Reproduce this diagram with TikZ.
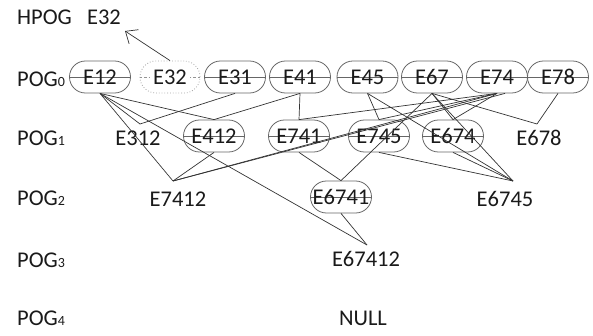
\documentclass[tikz,border=0pt]{standalone}
\usepackage{fontspec}
\setmainfont{Carlito}
\usetikzlibrary{arrows.meta}
\definecolor{ln}{HTML}{333333}
\definecolor{ov}{HTML}{666666}
\definecolor{tx}{HTML}{1A1A1A}
\newcommand{\sbs}[1]{{\fontsize{14}{14}\selectfont #1}}
\begin{document}
\begin{tikzpicture}[x=1pt,y=-1pt,
  every node/.style={font=\fontsize{22.5}{24}\selectfont, text=tx, inner sep=0pt},
  oval/.style={draw=ov, line width=0.8pt, rounded corners=15.9pt, minimum width=61pt, minimum height=32pt},
  dotoval/.style={draw=ov!60, dotted, line width=0.8pt, rounded corners=15.9pt, minimum width=60pt, minimum height=32pt},
  link/.style={draw=ln, line width=0.7pt},
  strike/.style={draw=ov, line width=0.8pt},
  lbl/.style={anchor=west}]
\useasboundingbox (0,0) rectangle (593,335);
% row labels
\node[lbl] (hpog) at (17,17) {HPOG};
\node (hE32) at (104,17) {E32};
\node[lbl] (pog0) at (17,79) {POG\sbs{0}};
\node[lbl] (pog1) at (17,138) {POG\sbs{1}};
\node[lbl] (pog2) at (17,198) {POG\sbs{2}};
\node[lbl] (pog3) at (17,260) {POG\sbs{3}};
\node[lbl] (pog4) at (17,318) {POG\sbs{4}};
% row 0
\node[oval] (E12) at (100,77) {};
\node[dotoval] (E32) at (170,77) {};
\node[oval] (E31) at (235,77) {};
\node[oval] (E41) at (300,77) {};
\node[oval] (E45) at (367.5,77) {};
\node[oval] (E67) at (432,77) {};
\node[oval] (E74) at (497,77) {};
\node[oval] (E78) at (558,77) {};
% row 1
\node[oval] (E412) at (214,136) {};
\node[oval] (E741) at (299,136) {};
\node[oval] (E745) at (379,136) {};
\node[oval] (E674) at (453,136) {};
% row 2
\node[oval] (E6741) at (341,197) {};
% strikes
\foreach \n in {E12,E31,E41,E45,E67,E74,E78,E412,E741,E745,E674,E6741}
  \draw[strike] (\n.west) -- (\n.east);
\draw[ov!70, line width=0.7pt, dash pattern=on 2.5pt off 2pt] (E32.west) -- ++(10,0);
\draw[ov!70, line width=0.7pt, dash pattern=on 2.5pt off 2pt] (E32.east) -- ++(-10,0);
% texts in ovals
\node at (E12) {E12};
\node at (E32) {E32};
\node at (E31) {E31};
\node at (E41) {E41};
\node at (E45) {E45};
\node at (E67) {E67};
\node at (E74) {E74};
\node at (E78) {E78};
\node at (E412) {E412};
\node at (E741) {E741};
\node at (E745) {E745};
\node at (E674) {E674};
\node at (E6741) {E6741};
% plain text nodes
\node (E312) at (138,138) {E312};
\node (E678) at (539,138) {E678};
\node (E7412) at (178,199) {E7412};
\node (E6745) at (505,199) {E6745};
\node (E67412) at (366,259) {E67412};
\node (NULL) at (363,318) {NULL};
% apex points
\coordinate (E312t) at (140,124);
\coordinate (E678t) at (537,124);
\coordinate (E7412t) at (173,181);
\coordinate (E6745t) at (513,181);
\coordinate (E67412t) at (367,245);
\coordinate (Harr) at (125,31);
% arrow
\draw[link, -{Straight Barb[length=10pt,width=17pt]}] (E32.north) -- (Harr);
% connectors
\draw[link] (E12.south) -- (E312t);
\draw[link] (E12.south) -- (E412.north);
\draw[link] (E12.south) -- (E7412t);
\draw[link] (E12.south) -- (E67412t);
\draw[link] (E31.south) -- (E312t);
\draw[link] (E41.south) -- (E412.north);
\draw[link] (E41.south) -- (E741.north);
\draw[link] (E74.south) -- (E741.north);
\draw[link] (E74.south) -- (E745.north);
\draw[link] (E74.south) -- (E674.north);
\draw[link] (E74.south) -- (E7412t);
\draw[link] ([xshift=8pt]E74.south) -- (E7412t);
\draw[link] (E45.south) -- (E745.north);
\draw[link] (E45.south) -- (E6745t);
\draw[link] (E67.south) -- (E674.north);
\draw[link] (E67.south) -- (E6741.north);
\draw[link] (E67.south) -- (E6745t);
\draw[link] (E67.south) -- (E678t);
\draw[link] (E78.south) -- (E678t);
\draw[link] (E412.south) -- (E7412t);
\draw[link] (E741.south) -- (E6741.north);
\draw[link] (E745.south) -- (E6745t);
\draw[link] (E674.south) -- (E6745t);
\draw[link] (E6741.south) -- (E67412t);
\end{tikzpicture}
\end{document}
